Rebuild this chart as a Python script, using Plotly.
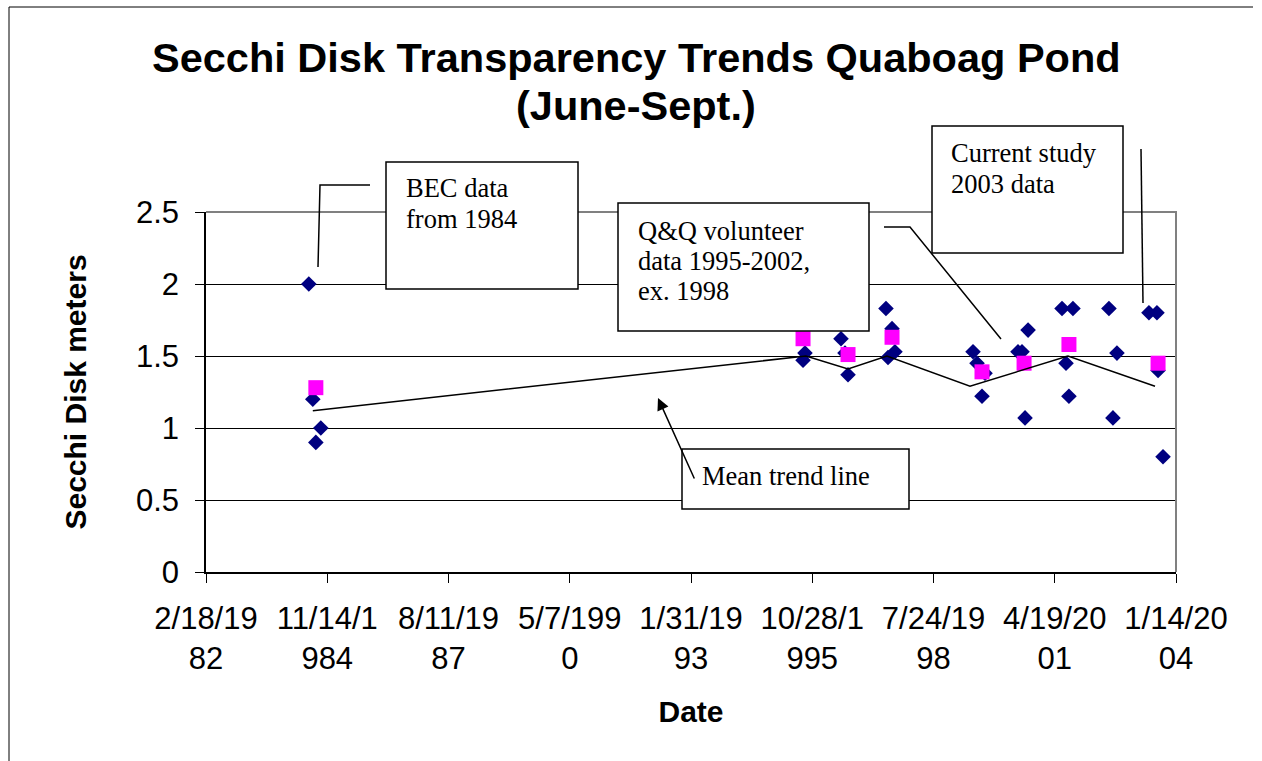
import plotly.graph_objects as go

# individual Secchi readings (navy diamonds)
obs_dates = ["1984-06-15", "1984-07-18", "1984-08-12", "1984-09-22",
             "1995-08-13", "1995-08-29",
             "1996-06-21", "1996-07-24", "1996-08-18",
             "1997-06-27", "1997-07-14", "1997-08-16", "1997-09-09",
             "1999-06-15", "1999-07-18", "1999-08-28", "1999-09-22",
             "2000-06-20", "2000-07-23", "2000-08-17", "2000-09-11",
             "2001-06-18", "2001-07-21", "2001-08-14", "2001-09-16",
             "2002-07-10", "2002-08-12", "2002-09-14",
             "2003-06-05", "2003-08-10", "2003-08-19", "2003-09-29"]
obs_depth = [2.0, 1.2, 0.9, 1.0,
             1.47, 1.52,
             1.62, 1.52, 1.37,
             1.83, 1.49, 1.69, 1.53,
             1.53, 1.45, 1.22, 1.38,
             1.53, 1.53, 1.07, 1.68,
             1.83, 1.45, 1.22, 1.83,
             1.83, 1.07, 1.52,
             1.8, 1.8, 1.4, 0.8]

# yearly means (magenta squares)
mean_dates = ["1984-08-12", "1995-08-13", "1996-08-18", "1997-08-16",
              "1999-08-28", "2000-08-09", "2001-08-14", "2003-08-19"]
mean_depth = [1.28, 1.62, 1.51, 1.63, 1.39, 1.45, 1.58, 1.45]

# trend line
trend_dates = ["1984-07-18", "1995-09-06", "1996-08-18", "1997-07-05",
               "1999-05-21", "2001-08-06", "2003-07-25"]
trend_depth = [1.12, 1.5, 1.41, 1.5, 1.29, 1.5, 1.29]

tick_dates = ["1982-02-18", "1984-11-14", "1987-08-11", "1990-05-07", "1993-01-31",
              "1995-10-28", "1998-07-24", "2001-04-19", "2004-01-14"]
tick_text = ["2/18/19<br>82", "11/14/1<br>984", "8/11/19<br>87", "5/7/199<br>0",
             "1/31/19<br>93", "10/28/1<br>995", "7/24/19<br>98", "4/19/20<br>01",
             "1/14/20<br>04"]

ARIAL = "Arial, Liberation Sans, sans-serif"
TIMES = "Times New Roman, Liberation Serif, serif"

W, H = 1262, 761
L, R, T, B = 206, 1176, 212, 572


def px(x):
    return (x - L) / (R - L)


def py(y):
    return (B - y) / (B - T)


fig = go.Figure()
fig.add_trace(go.Scatter(x=obs_dates, y=obs_depth, mode="markers",
                         marker=dict(symbol="diamond", size=12, color="#000080"),
                         cliponaxis=False))
fig.add_trace(go.Scatter(x=mean_dates, y=mean_depth, mode="markers",
                         marker=dict(symbol="square", size=15, color="#FF00FF"),
                         cliponaxis=False))
fig.add_trace(go.Scatter(x=trend_dates, y=trend_depth, mode="lines",
                         line=dict(color="black", width=1.5)))

shapes = []
# plot area border (grey top and right)
shapes.append(dict(type="path", xref="paper", yref="paper",
                   path="M 0,1 L 1,1 L 1,0", line=dict(color="#808080", width=2), layer="above"))
# outer chart border (left and top)
shapes.append(dict(type="path", xref="paper", yref="paper",
                   path=f"M {px(9)},{py(800)} L {px(9)},{py(7)} L {px(1253)},{py(7)}",
                   line=dict(color="black", width=1), layer="above"))
# callout connectors
connectors = [
    [(318, 267), (320, 185), (370, 185)],
    [(884, 227), (910, 227), (1001, 339)],
    [(1141, 149), (1143, 303)],
]
for pts in connectors:
    path = "M " + " L ".join(f"{px(a)},{py(b)}" for a, b in pts)
    shapes.append(dict(type="path", xref="paper", yref="paper", path=path,
                       line=dict(color="black", width=1.5), layer="above"))
# callout boxes
boxes = [(386, 162, 578, 289), (618, 203, 869, 331), (682, 449, 909, 509), (932, 126, 1123, 253)]
for x0, y0, x1, y1 in boxes:
    shapes.append(dict(type="rect", xref="paper", yref="paper",
                       x0=px(x0), x1=px(x1), y0=py(y1), y1=py(y0),
                       fillcolor="white", line=dict(color="black", width=1.5), layer="above"))

box_text = [
    (404, 188, "BEC data"), (404, 219, "from 1984"),
    (636, 231, "Q&Q volunteer"), (636, 261, "data 1995-2002,"), (636, 291, "ex. 1998"),
    (700, 476, "Mean trend line"),
    (949, 153, "Current study"), (949, 184, "2003 data"),
]
annotations = []
for x, y, t in box_text:
    annotations.append(dict(x=px(x), y=py(y), xref="paper", yref="paper", text=t,
                            showarrow=False, xanchor="left", yanchor="middle",
                            font=dict(family=TIMES, size=26.5, color="black")))
# arrow to trend line
annotations.append(dict(x=px(658), y=py(398), xref="paper", yref="paper", text="",
                        showarrow=True, ax=37, ay=82, arrowhead=2, arrowsize=1.6,
                        arrowwidth=1.5, arrowcolor="black"))
# chart title, two lines
for y, t in [(57, "Secchi Disk Transparency Trends Quaboag Pond"), (106, "(June-Sept.)")]:
    annotations.append(dict(x=px(636), y=py(y), xref="paper", yref="paper", text=f"<b>{t}</b>",
                            showarrow=False, xanchor="center", yanchor="middle",
                            font=dict(family=ARIAL, size=41.5, color="black")))

fig.update_layout(
    width=W, height=H,
    margin=dict(l=L, r=W - R, t=T, b=H - B),
    paper_bgcolor="white", plot_bgcolor="white",
    showlegend=False,
    font=dict(family=ARIAL, size=31, color="black"),
    shapes=shapes,
    annotations=annotations,
)
fig.update_xaxes(type="date", range=[tick_dates[0], tick_dates[-1]],
                 tickvals=tick_dates, ticktext=tick_text,
                 showgrid=False, zeroline=False,
                 showline=True, linecolor="black", linewidth=1.5,
                 ticks="outside", ticklen=9, tickcolor="black", tickwidth=1,
                 ticklabelstandoff=9,
                 tickfont=dict(family=ARIAL, size=31),
                 title=dict(text="<b>Date</b>", standoff=26, font=dict(family=ARIAL, size=30)),
                 automargin=False)
fig.update_yaxes(range=[0, 2.5], tickvals=[0, 0.5, 1, 1.5, 2, 2.5],
                 ticktext=["0", "0.5", "1", "1.5", "2", "2.5"],
                 showgrid=True, gridcolor="black", gridwidth=1, zeroline=False,
                 showline=True, linecolor="black", linewidth=1.5,
                 ticks="outside", ticklen=9, tickcolor="black", tickwidth=1,
                 ticklabelstandoff=10,
                 tickfont=dict(family=ARIAL, size=31),
                 title=dict(text="<b>Secchi Disk meters</b>", standoff=40,
                            font=dict(family=ARIAL, size=30)),
                 automargin=False)

fig.write_html("out.html", config={"displayModeBar": False},
               post_script="document.body.style.margin='0';")
